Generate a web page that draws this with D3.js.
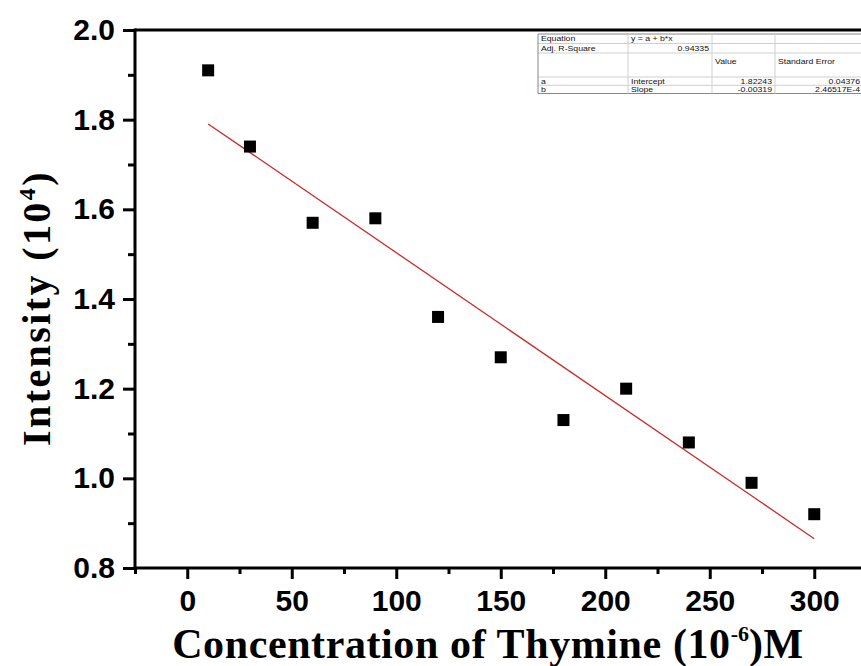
<!DOCTYPE html>
<html><head><meta charset="utf-8">
<script src="https://cdn.jsdelivr.net/npm/d3@7"></script>
<style>body{margin:0;background:#fff;overflow:hidden}</style>
</head><body>
<svg id="c" width="861" height="666"></svg>
<script>
// ---- data ----
const concentration = [10, 30, 60, 90, 120, 150, 180, 210, 240, 270, 300];
const intensity = [1.91, 1.74, 1.57, 1.58, 1.36, 1.27, 1.13, 1.20, 1.08, 0.99, 0.92];
const fitIntercept = 1.82243;
const fitSlope = -0.00319;
const xMajorTicks = [0, 50, 100, 150, 200, 250, 300];
const xMinorTicks = [-25, 25, 75, 125, 175, 225, 275];
const yMajorTicks = [0.8, 1.0, 1.2, 1.4, 1.6, 1.8, 2.0];
const yMinorTicks = [0.9, 1.1, 1.3, 1.5, 1.7, 1.9];
const tableCol1 = ["Equation", "Adj. R-Square", "", "a", "b"];
const tableCol2 = ["y = a + b*x", "0.94335", "", "Intercept", "Slope"];
const tableCol3 = ["", "", "Value", "1.82243", "-0.00319"];
const tableCol4 = ["", "", "Standard Error", "0.04376", "2.46517E-4"];

// ---- layout ----
const svg = d3.select("#c");
const L = 135, R = 866.5, T = 30, B = 568;
const x = d3.scaleLinear().domain([-25, 325]).range([L, R]);
const y = d3.scaleLinear().domain([0.8, 2.0]).range([B, T]);

const tickFont = "'Liberation Sans', Arial, sans-serif";
const titleFont = "'Liberation Serif', 'Times New Roman', serif";

// frame top line
svg.append("line").attr("x1", L).attr("x2", 861).attr("y1", T).attr("y2", T)
  .attr("stroke", "#000").attr("stroke-width", 3);

// x axis
const gx = svg.append("g").attr("transform", `translate(0,${B})`);
gx.call(d3.axisBottom(x).tickValues(xMinorTicks).tickSize(6).tickFormat(""));
gx.call(g => g.selectAll(".domain").remove());
const gx2 = svg.append("g").attr("transform", `translate(0,${B})`);
gx2.call(d3.axisBottom(x).tickValues(xMajorTicks).tickSize(11).tickPadding(11).tickFormat(d3.format("d")));
gx2.select(".domain").attr("d", `M${L},0H861`);
[gx, gx2].forEach(g => {
  g.selectAll("line").attr("stroke", "#000").attr("stroke-width", 3);
  g.selectAll(".domain").attr("stroke", "#000").attr("stroke-width", 3);
});
gx2.selectAll("text").attr("font-family", tickFont).attr("font-weight", "bold")
  .attr("font-size", 30).attr("fill", "#000");

// y axis
const gy = svg.append("g").attr("transform", `translate(${L},0)`);
gy.call(d3.axisLeft(y).tickValues(yMinorTicks).tickSize(7).tickFormat(""));
gy.call(g => g.selectAll(".domain").remove());
const gy2 = svg.append("g").attr("transform", `translate(${L},0)`);
gy2.call(d3.axisLeft(y).tickValues(yMajorTicks).tickSize(12).tickPadding(8).tickFormat(d3.format(".1f")));
gy2.select(".domain").attr("d", `M0,${T - 1.5}V${B + 1.5}`);
[gy, gy2].forEach(g => {
  g.selectAll("line").attr("stroke", "#000").attr("stroke-width", 3);
  g.selectAll(".domain").attr("stroke", "#000").attr("stroke-width", 3);
});
gy2.selectAll("text").attr("font-family", tickFont).attr("font-weight", "bold")
  .attr("font-size", 30).attr("fill", "#000");

// fit line
const xs = d3.extent(concentration);
svg.append("line")
  .attr("x1", x(xs[0])).attr("y1", y(fitIntercept + fitSlope * xs[0]))
  .attr("x2", x(xs[1])).attr("y2", y(fitIntercept + fitSlope * xs[1]))
  .attr("stroke", "#cc2a2a").attr("stroke-width", 1.3);

// points
const S = 12;
svg.append("g").selectAll("rect").data(concentration).join("rect")
  .attr("x", d => x(d) - S / 2)
  .attr("y", (d, i) => y(intensity[i]) - S / 2)
  .attr("width", S).attr("height", S).attr("fill", "#000");

// axis titles
const xt = svg.append("text").attr("x", 488).attr("y", 658).attr("text-anchor", "middle")
  .attr("font-family", titleFont).attr("font-weight", "bold").attr("font-size", 42)
  .attr("letter-spacing", 0.6).attr("fill", "#000");
xt.append("tspan").text("Concentration of Thymine (10");
xt.append("tspan").attr("dy", -17).attr("font-size", 22).attr("letter-spacing", 0).text("-6");
xt.append("tspan").attr("dy", 17).text(")M");

const yt = svg.append("text").attr("transform", "translate(50,308) rotate(-90)").attr("text-anchor", "middle")
  .attr("font-family", titleFont).attr("font-weight", "bold").attr("font-size", 40)
  .attr("letter-spacing", 2.4).attr("fill", "#000");
yt.append("tspan").text("Intensity (10");
yt.append("tspan").attr("dy", -15).attr("font-size", 24).text("4");
yt.append("tspan").attr("dy", 15).text(")");

// fit table (squashed vertically, as in the reference)
const colX = [538, 628, 712, 775, 863];
const rowY = [34, 43.5, 53, 77, 85.3, 93.5];
const baseY = [41.3, 50.8, 64, 83.6, 91.6];
const cols = [tableCol1, tableCol2, tableCol3, tableCol4];
const tg = svg.append("g");
rowY.forEach((ry, i) => tg.append("line").attr("x1", colX[0]).attr("x2", colX[4]).attr("y1", ry).attr("y2", ry)
  .attr("stroke", i === 0 || i === rowY.length - 1 ? "#888" : "#cfcfcf").attr("stroke-width", 1));
colX.forEach((cx, i) => tg.append("line").attr("x1", cx).attr("x2", cx).attr("y1", rowY[0]).attr("y2", rowY[rowY.length - 1])
  .attr("stroke", i === 0 ? "#888" : "#cfcfcf").attr("stroke-width", 1));
const isNum = s => /^-?[0-9]/.test(s);
cols.forEach((col, c) => {
  col.forEach((txt, r) => {
    if (!txt) return;
    const right = isNum(txt);
    const tx = right ? colX[c + 1] - 3 : colX[c] + 3;
    tg.append("text")
      .attr("transform", `translate(${tx},${baseY[r]}) scale(1,0.82)`)
      .attr("text-anchor", right ? "end" : "start")
      .attr("font-family", tickFont).attr("font-size", 8.7).attr("fill", "#111")
      .text(txt);
  });
});
</script>
</body></html>
